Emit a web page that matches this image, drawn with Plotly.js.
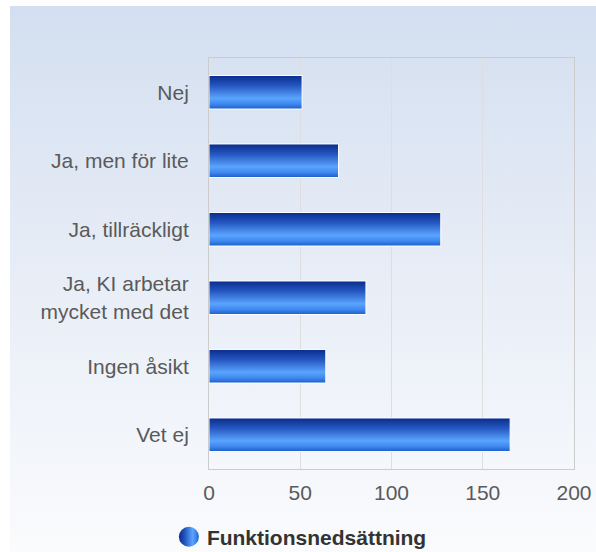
<!DOCTYPE html>
<html>
<head>
<meta charset="utf-8">
<script src="https://cdn.plot.ly/plotly-3.0.1.min.js"></script>
<style>
  html, body { margin:0; padding:0; background:#ffffff; }
  #wrap { position:relative; width:596px; height:552px; }
  #bg { position:absolute; left:10px; top:6px; width:586px; height:546px;
        background: linear-gradient(to bottom, #d3dff0 0%, #e6ecf6 45%, #fafbfd 100%); }
  #chart { position:absolute; left:0; top:0; width:596px; height:552px; }
</style>
</head>
<body>
<div id="wrap"><div id="bg"></div><div id="chart"></div></div>
<script>
const categories = ["Nej", "Ja, men för lite", "Ja, tillräckligt", "Ja, KI arbetar<br>mycket med det", "Ingen åsikt", "Vet ej"];
const values = [51, 71, 127, 86, 64, 165];
const seriesName = "Funktionsnedsättning";
const xTicks = [0, 50, 100, 150, 200];

const trace = {
  type: 'bar',
  orientation: 'h',
  y: categories,
  x: values,
  name: seriesName,
  showlegend: true,
  marker: { color: '#3a7be0', line: { color: '#ffffff', width: 1 } },
  hoverinfo: 'x+y'
};

const layout = {
  width: 596, height: 552,
  paper_bgcolor: 'rgba(0,0,0,0)',
  plot_bgcolor: 'rgba(0,0,0,0)',
  margin: { l: 209, r: 22, t: 58, b: 83 },
  bargap: 0.51,
  font: { family: 'Liberation Sans, Arial, sans-serif', size: 21, color: '#5a5a5a' },
  xaxis: {
    range: [0, 200],
    tickvals: xTicks,
    ticktext: xTicks.map(String),
    showgrid: true, gridcolor: '#dedede', gridwidth: 1,
    zeroline: false,
    showline: true, linecolor: '#cccccc', linewidth: 1, mirror: true,
    ticks: '', ticklabelstandoff: 5,
    tickfont: { size: 21, color: '#5a5a5a' },
    automargin: false,
    fixedrange: true
  },
  yaxis: {
    autorange: 'reversed',
    type: 'category',
    showgrid: false, zeroline: false,
    showline: true, linecolor: '#cccccc', linewidth: 1, mirror: true,
    ticks: '', ticklabelstandoff: 15,
    tickfont: { size: 21, color: '#5a5a5a' },
    automargin: false,
    fixedrange: true
  },
  showlegend: true,
  legend: {
    orientation: 'h',
    xref: 'container', yref: 'container',
    x: 0.280, xanchor: 'left',
    y: 0.027, yanchor: 'middle',
    bgcolor: 'rgba(0,0,0,0)',
    font: { size: 21, color: '#333333', family: 'Liberation Sans, Arial, sans-serif', weight: 'bold' }
  }
};

Plotly.newPlot('chart', [trace], layout, { displayModeBar: false, staticPlot: true }).then(function (gd) {
  const svg = gd.querySelector('svg.main-svg');
  const ns = 'http://www.w3.org/2000/svg';
  let defs = svg.querySelector('defs');
  if (!defs) { defs = document.createElementNS(ns, 'defs'); svg.insertBefore(defs, svg.firstChild); }
  function grad(id, horiz, stops) {
    const g = document.createElementNS(ns, 'linearGradient');
    g.setAttribute('id', id);
    g.setAttribute('x1', '0'); g.setAttribute('y1', '0');
    g.setAttribute('x2', horiz ? '1' : '0'); g.setAttribute('y2', horiz ? '0' : '1');
    stops.forEach(function (s) {
      const st = document.createElementNS(ns, 'stop');
      st.setAttribute('offset', s[0]);
      st.setAttribute('stop-color', s[1]);
      g.appendChild(st);
    });
    defs.appendChild(g);
  }
  const stops = [['0%', '#0a2b8c'], ['30%', '#2456c0'], ['68%', '#5aa4ff'], ['85%', '#3f88ee'], ['100%', '#1d5dcb']];
  grad('barGrad', false, stops);
  grad('legGrad', true, stops);
  gd.querySelectorAll('.barlayer .point path').forEach(function (p) {
    p.style.fill = 'url(#barGrad)';
  });
  gd.querySelectorAll('.legend .legendpoints path').forEach(function (p) {
    p.setAttribute('d', 'M10,0A10,10 0 1,1 -10,0A10,10 0 1,1 10,0Z');
    p.setAttribute('transform', 'translate(22,0)');
    p.style.fill = 'url(#legGrad)';
    p.style.stroke = 'none';
  });
});
</script>
</body>
</html>
